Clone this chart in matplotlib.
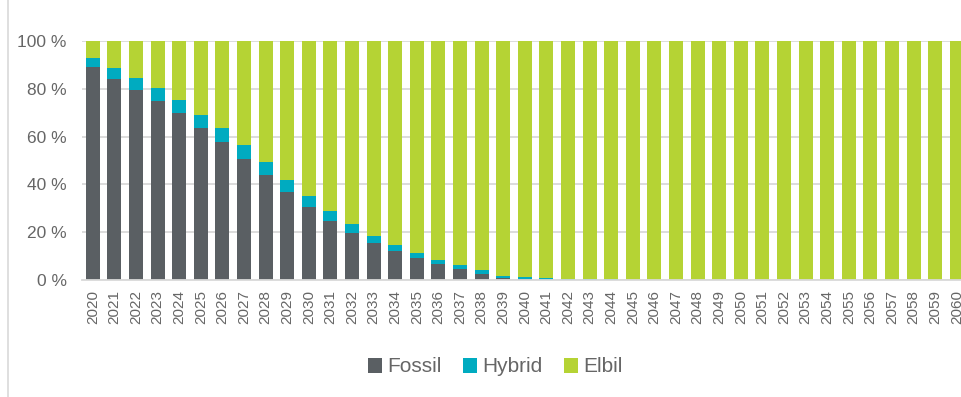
import matplotlib.pyplot as plt
import numpy as np

plt.rcParams['font.family'] = ['Liberation Sans', 'DejaVu Sans']

years = list(range(2020, 2061))

# share of car fleet, percent
fossil = [89.2, 83.9, 79.6, 74.7, 69.7, 63.4, 57.8, 50.8, 43.9, 36.8,
          30.5, 24.8, 19.7, 15.5, 12.0, 9.1, 6.6, 4.5, 2.4, 0.8,
          0.3, 0.15, 0.1, 0.05, 0.0, 0.0, 0.0, 0.0, 0.0, 0.0,
          0.0, 0.0, 0.0, 0.0, 0.0, 0.0, 0.0, 0.0, 0.0, 0.0, 0.0]
hybrid = [3.8, 4.9, 5.0, 5.6, 5.7, 5.7, 5.8, 5.7, 5.3, 5.0,
          4.6, 4.0, 3.7, 3.1, 2.7, 2.2, 1.9, 1.7, 1.7, 1.0,
          0.8, 0.55, 0.5, 0.35, 0.3, 0.2, 0.1, 0.1, 0.1, 0.0,
          0.0, 0.0, 0.0, 0.0, 0.0, 0.0, 0.0, 0.0, 0.0, 0.0, 0.0]
elbil = [100 - f - h for f, h in zip(fossil, hybrid)]

c_fossil = '#5a5f63'
c_hybrid = '#00abc0'
c_elbil = '#b5d334'
txt = '#666666'

fig = plt.figure(figsize=(9.62, 3.97), dpi=100)
ax = fig.add_axes([82 / 962, 117 / 397, 885.6 / 962, 239 / 397])

x = np.arange(len(years))
w = 0.65
ax.bar(x, fossil, w, color=c_fossil, label='Fossil', zorder=3)
ax.bar(x, hybrid, w, bottom=fossil, color=c_hybrid, label='Hybrid', zorder=3)
ax.bar(x, elbil, w, bottom=np.add(fossil, hybrid), color=c_elbil, label='Elbil', zorder=3)

ax.set_xlim(-0.5, len(years) - 0.5)
ax.set_ylim(0, 100)
ax.set_yticks(range(0, 101, 20))
ax.set_yticklabels([f'{v} %' for v in range(0, 101, 20)])
ax.set_xticks(x)
ax.set_xticklabels([str(y) for y in years], rotation=90)
ax.tick_params(axis='y', length=0, pad=11, labelsize=12.5, colors=txt)
ax.tick_params(axis='x', length=0, pad=7, labelsize=11, colors=txt)
ax.yaxis.grid(True, color='#d9d9d9', linewidth=1.3, zorder=0)
for s in ['top', 'right', 'left']:
    ax.spines[s].set_visible(False)
ax.spines['bottom'].set_color('#d9d9d9')
ax.spines['bottom'].set_linewidth(1.3)
ax.spines['bottom'].set_zorder(4)

# frame line on the left
fig.add_artist(plt.Line2D([8 / 962, 8 / 962], [0, 1], color='#d9d9d9', linewidth=1.2))

handles, labels = ax.get_legend_handles_labels()
leg = fig.legend(handles, labels, loc='center', bbox_to_anchor=(0.515, 30 / 397),
                 ncol=3, frameon=False, fontsize=15, handlelength=0.7,
                 handleheight=0.7, handletextpad=0.25, columnspacing=1.0)
for t in leg.get_texts():
    t.set_color(txt)

fig.savefig('out.png', dpi=100)
